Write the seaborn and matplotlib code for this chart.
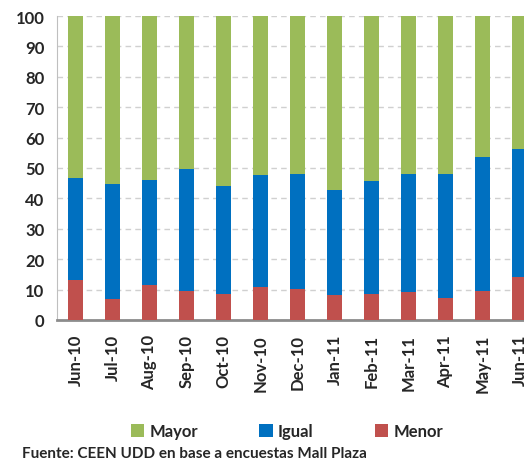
import matplotlib
matplotlib.use("Agg")
import matplotlib.pyplot as plt
import numpy as np
import pandas as pd
import seaborn as sns

# monthly shares (%)
months = ["Jun-10", "Jul-10", "Aug-10", "Sep-10", "Oct-10", "Nov-10", "Dec-10",
          "Jan-11", "Feb-11", "Mar-11", "Apr-11", "May-11", "Jun-11"]
menor = [13.3, 6.8, 11.4, 9.7, 8.4, 10.7, 10.1, 8.1, 8.4, 9.1, 7.4, 9.7, 14.0]
igual = [33.5, 38.0, 34.7, 40.0, 35.8, 37.1, 38.0, 34.7, 37.4, 39.0, 40.7, 44.0, 42.3]
mayor = [53.2, 55.2, 53.9, 50.3, 55.8, 52.2, 51.9, 57.2, 54.2, 51.9, 51.9, 46.3, 43.7]

df = pd.DataFrame({"month": months, "Menor": menor, "Igual": igual, "Mayor": mayor})
df["igual_top"] = df["Menor"] + df["Igual"]
df["mayor_top"] = df["igual_top"] + df["Mayor"]

sns.set_style("white")
plt.rcParams["font.family"] = ["Lato", "DejaVu Sans"]
plt.rcParams["font.weight"] = "bold"

fig = plt.figure(figsize=(5.24, 4.64), dpi=100)
ax = fig.add_axes([57 / 524, 143 / 464, 481 / 524, 304 / 464])

w = 0.38
sns.barplot(data=df, x="month", y="mayor_top", color="#9BBB59", width=w,
            saturation=1, label="Mayor", ax=ax, zorder=3)
sns.barplot(data=df, x="month", y="igual_top", color="#0070C0", width=w,
            saturation=1, label="Igual", ax=ax, zorder=3)
sns.barplot(data=df, x="month", y="Menor", color="#C0504D", width=w,
            saturation=1, label="Menor", ax=ax, zorder=3)
for p in ax.patches:
    p.set_edgecolor("none")

ax.set_xlim(-0.5, len(months) - 0.5)
ax.set_ylim(0, 100)
ax.set_yticks(np.arange(0, 101, 10))
ax.set_xlabel("")
ax.set_ylabel("")
ax.grid(axis="y", color="#D0D0D0", linestyle=(0, (4, 3)), linewidth=1, zorder=0)

for s in ["top", "right"]:
    ax.spines[s].set_visible(False)
ax.spines["left"].set_color("#BFBFBF")
ax.spines["bottom"].set_color("#8C8C8C")
ax.spines["bottom"].set_linewidth(2)

ax.tick_params(axis="y", length=5, color="#BFBFBF", labelsize=12, pad=4)
ax.tick_params(axis="x", which="major", length=0, labelsize=12, pad=10)
ax.set_xticks(np.arange(-0.5, len(months), 1), minor=True)
ax.tick_params(axis="x", which="minor", length=5, color="#8C8C8C", width=1.5)
plt.setp(ax.get_xticklabels(), rotation=90)
for lab in ax.get_xticklabels() + ax.get_yticklabels():
    lab.set_fontweight("bold")

handles, labels = ax.get_legend_handles_labels()
if ax.get_legend() is not None:
    ax.get_legend().remove()
fig.legend(handles, labels, loc="center", bbox_to_anchor=(287 / 524, 32 / 464),
           ncol=3, frameon=False, handlelength=0.8,
           handleheight=0.8, handletextpad=0.3, columnspacing=3.7,
           prop={"weight": "bold", "size": 12})

fig.text(22 / 524, 17 / 464, "Fuente: CEEN UDD en base a encuestas Mall Plaza",
         fontsize=11, fontweight="bold", va="top", ha="left")

fig.savefig("out.png", dpi=100)
